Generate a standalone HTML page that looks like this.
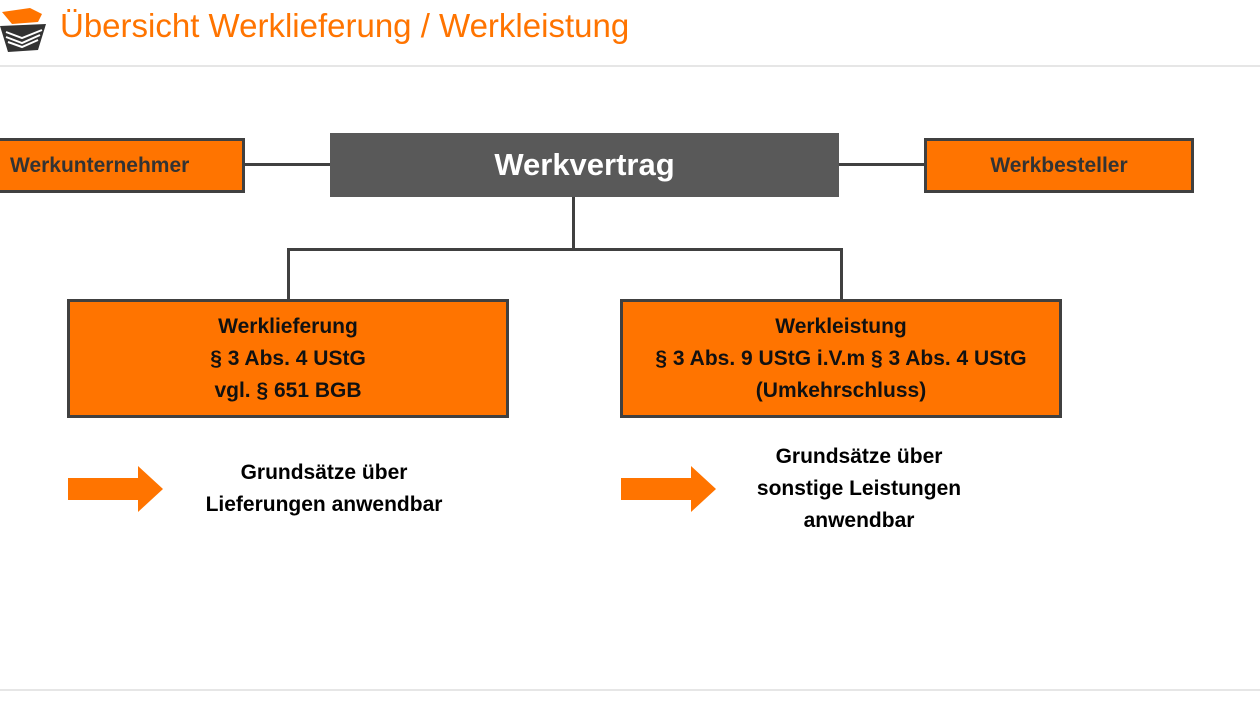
<!DOCTYPE html>
<html><head><meta charset="utf-8"><style>
body{margin:0;width:1260px;height:709px;background:#fff;position:relative;overflow:hidden;font-family:"Liberation Sans","DejaVu Sans",sans-serif;}
.a{position:absolute;}
.box{position:absolute;box-sizing:border-box;background:#ff7400;border:3px solid #404040;display:flex;align-items:center;justify-content:center;text-align:center;font-weight:bold;color:#111;}
.t{position:absolute;text-align:center;font-weight:bold;font-size:21px;line-height:32px;color:#000;}
.l{position:absolute;background:#404040;}
</style></head><body>
<svg class="a" style="left:0;top:4px" width="50" height="50" viewBox="0 0 50 50">
<path d="M2 8 L30 4 L42 10 L38 18 L12 20 Z" fill="#ff7400"/>
<path d="M0 22 L46 20 L38 46 L8 48 Z" fill="#333"/>
<path d="M6 28 L22 34 L42 26 M6 33 L22 39 L40 31 M8 38 L22 43 L38 36" stroke="#fff" stroke-width="2" fill="none"/>
</svg>
<div class="a" style="left:60px;top:7px;font-size:33px;color:#ff7400;">Übersicht Werklieferung / Werkleistung</div>
<div class="a" style="left:0;top:65px;width:1260px;height:2px;background:#e6e6e6"></div>
<div class="a" style="left:0;top:689px;width:1260px;height:2px;background:#e6e6e6"></div>

<div class="l" style="left:244px;top:163px;width:87px;height:3px"></div>
<div class="l" style="left:838px;top:163px;width:88px;height:3px"></div>
<div class="l" style="left:572px;top:197px;width:3px;height:52px"></div>
<div class="l" style="left:287px;top:248px;width:556px;height:3px"></div>
<div class="l" style="left:287px;top:248px;width:3px;height:52px"></div>
<div class="l" style="left:840px;top:248px;width:3px;height:52px"></div>

<div class="box" style="left:-5px;top:138px;width:250px;height:55px;font-size:21px;color:#333;justify-content:flex-start;padding-left:12px">Werkunternehmer</div>
<div class="box" style="left:330px;top:133px;width:509px;height:64px;background:#595959;border:none;color:#fff;font-size:31px">Werkvertrag</div>
<div class="box" style="left:924px;top:138px;width:270px;height:55px;font-size:21px;color:#333">Werkbesteller</div>

<div class="box" style="left:67px;top:299px;width:442px;height:119px;font-size:21px;line-height:32px">Werklieferung<br>§ 3 Abs. 4 UStG<br>vgl. § 651 BGB</div>
<div class="box" style="left:620px;top:299px;width:442px;height:119px;font-size:21px;line-height:32px">Werkleistung<br>§ 3 Abs. 9 UStG i.V.m § 3 Abs. 4 UStG<br>(Umkehrschluss)</div>

<svg class="a" style="left:68px;top:466px" width="96" height="46"><path d="M0 12 H70 V0 L95 23 L70 46 V34 H0 Z" fill="#ff7400"/></svg>
<svg class="a" style="left:621px;top:466px" width="96" height="46"><path d="M0 12 H70 V0 L95 23 L70 46 V34 H0 Z" fill="#ff7400"/></svg>

<div class="t" style="left:174px;top:457px;width:300px">Grundsätze über<br>Lieferungen anwendbar</div>
<div class="t" style="left:709px;top:441px;width:300px">Grundsätze über<br>sonstige Leistungen<br>anwendbar</div>
</body></html>
